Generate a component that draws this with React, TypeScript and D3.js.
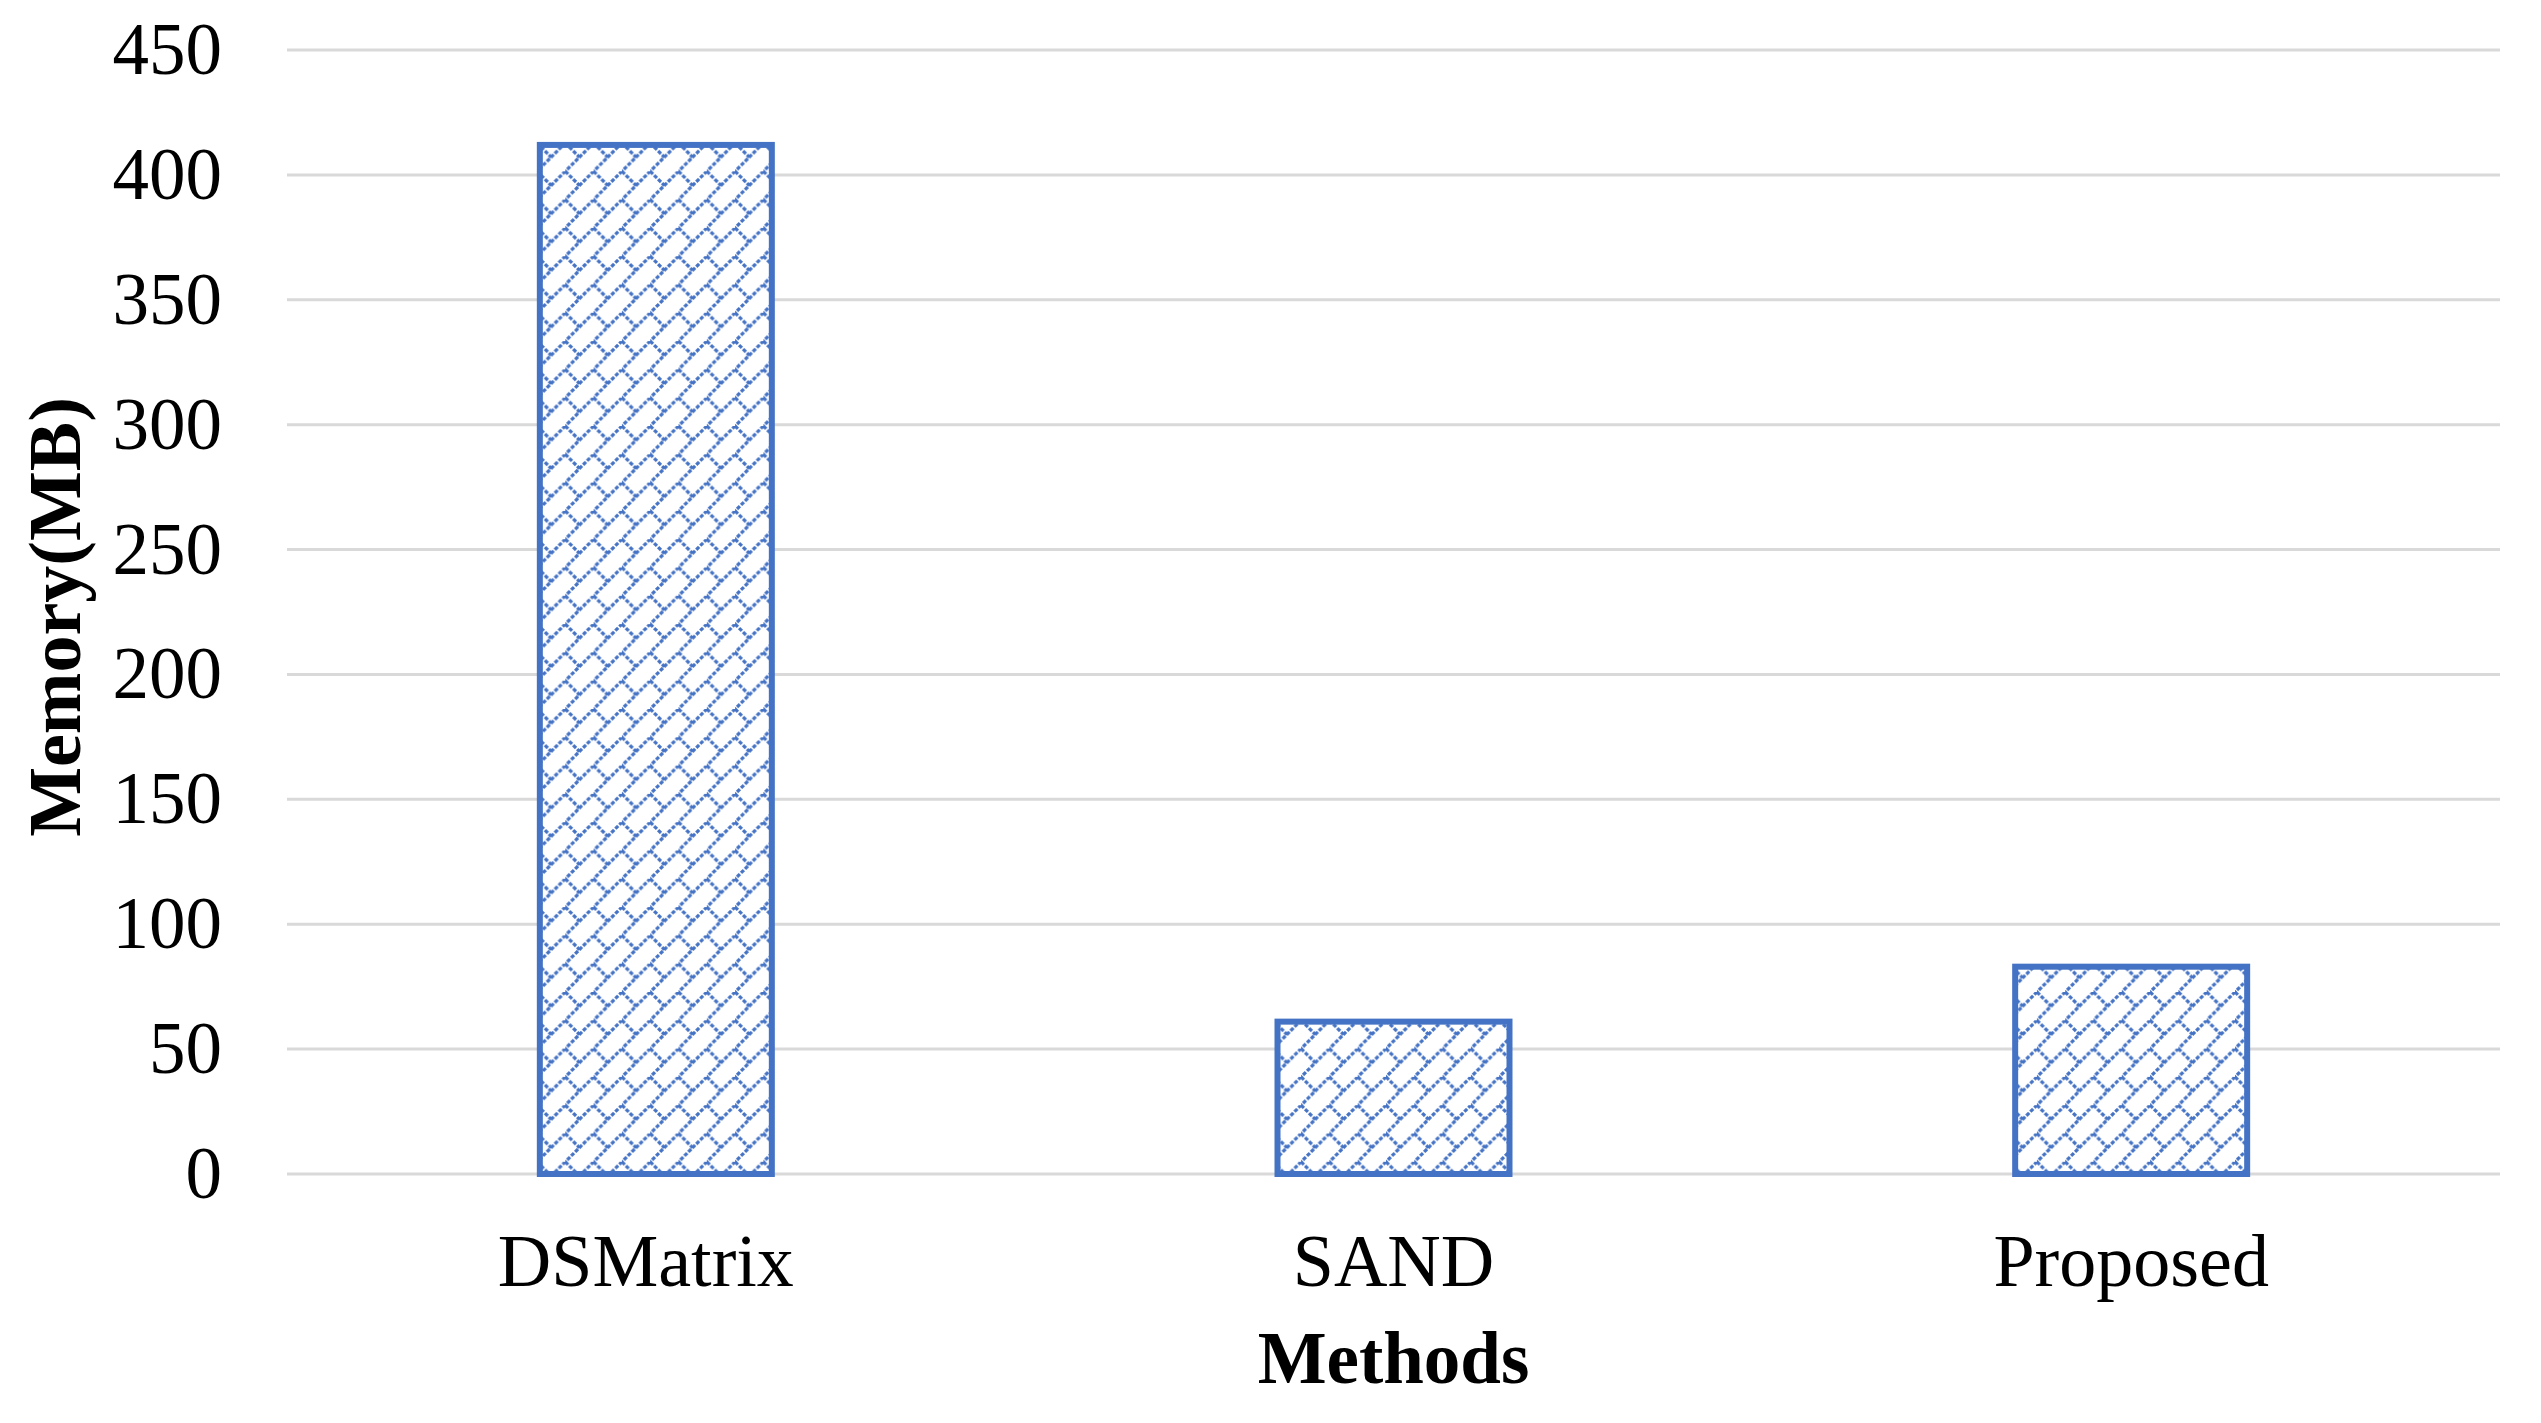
import React from "react";
import * as d3 from "d3";

const categories = ["DSMatrix", "SAND", "Proposed"];
const memoryValues = [412, 61, 83];
const yTicks = [0, 50, 100, 150, 200, 250, 300, 350, 400, 450];
const xTitle = "Methods";
const yTitle = "Memory(MB)";

const W = 2541;
const H = 1423;
const margin = { left: 287, right: 41, top: 50, bottom: 249 };
const BLUE = "#4472C4";
const FONT = "'Liberation Serif', 'Times New Roman', serif";
const T = 28.3; // hatch tile size

export default function App() {
  const x = d3
    .scaleBand<string>()
    .domain(categories)
    .range([margin.left, W - margin.right])
    .paddingInner(0.6855)
    .paddingOuter(0.34275);
  const y = d3.scaleLinear().domain([0, 450]).range([H - margin.bottom, margin.top]);

  const hatchLines: [number, number, number, number][] = [
    [-2, T + 2, T + 2, -2],
    [0, 0, T / 2, T / 2],
    [T, 0, T + T / 2, T / 2],
    [0, T, T / 2, T + T / 2],
    [-T / 2, T / 2, 0, T],
  ];

  return (
    <svg
      width={W}
      height={H}
      style={{ position: "absolute", left: 0, top: 0, display: "block", background: "#fff" }}
    >
      <defs>
        <pattern id="shingle" patternUnits="userSpaceOnUse" width={T} height={T} x={537} y={143}>
          <rect width={T} height={T} fill="#fff" />
          {hatchLines.map((l, i) => (
            <line
              key={i}
              x1={l[0]}
              y1={l[1]}
              x2={l[2]}
              y2={l[3]}
              stroke={BLUE}
              strokeWidth={3.2}
              strokeDasharray="4 1.6"
            />
          ))}
        </pattern>
      </defs>
      <rect width={W} height={H} fill="#fff" />
      {yTicks.map((t) => (
        <g key={t}>
          <line
            x1={margin.left}
            x2={W - margin.right}
            y1={y(t)}
            y2={y(t)}
            stroke="#D9D9D9"
            strokeWidth={3}
          />
          <text
            x={222}
            y={y(t) + 24}
            textAnchor="end"
            fontFamily={FONT}
            fontSize={73}
            fill="#000"
          >
            {t}
          </text>
        </g>
      ))}
      {categories.map((c, i) => (
        <rect
          key={c}
          x={x(c)!}
          y={y(memoryValues[i])}
          width={x.bandwidth()}
          height={y(0) - y(memoryValues[i])}
          fill="url(#shingle)"
          stroke={BLUE}
          strokeWidth={6}
        />
      ))}
      {categories.map((c, i) => (
        <text
          key={c}
          x={x(c)! + x.bandwidth() / 2}
          dx={i === 0 ? -10 : 0}
          y={1286}
          textAnchor="middle"
          fontFamily={FONT}
          fontSize={74}
          fill="#000"
        >
          {c}
        </text>
      ))}
      <text
        x={x(categories[1])! + x.bandwidth() / 2}
        y={1383}
        textAnchor="middle"
        fontFamily={FONT}
        fontSize={73}
        fontWeight="bold"
        fill="#000"
      >
        {xTitle}
      </text>
      <text
        transform={`translate(80, 617) rotate(-90)`}
        textAnchor="middle"
        fontFamily={FONT}
        fontSize={74}
        fontWeight="bold"
        fill="#000"
      >
        {yTitle}
      </text>
    </svg>
  );
}
